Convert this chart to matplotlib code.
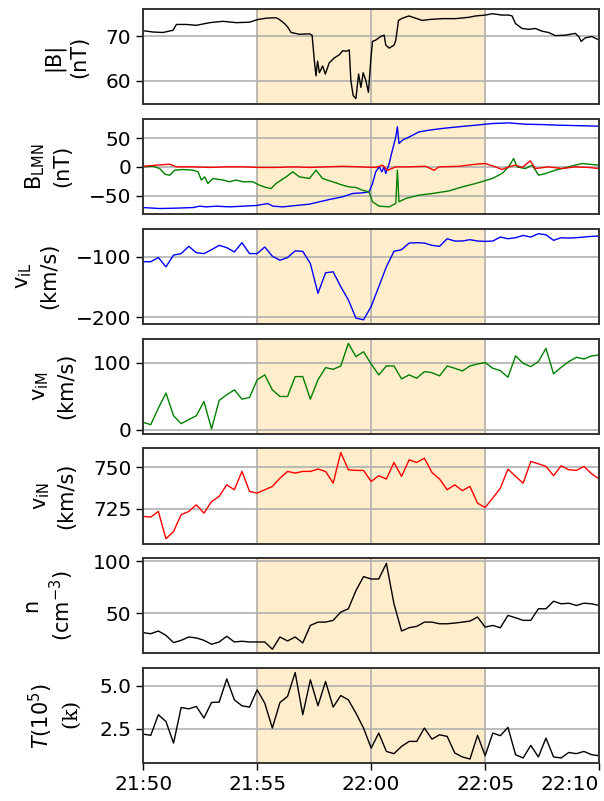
import numpy as np
import matplotlib
matplotlib.use("Agg")
import matplotlib.pyplot as plt

plt.rcParams['font.family'] = ['DejaVu Sans']
plt.rcParams['mathtext.fontset'] = 'custom'
plt.rcParams['mathtext.rm'] = 'DejaVu Serif'
plt.rcParams['mathtext.it'] = 'DejaVu Sans:italic'
plt.rcParams['mathtext.sf'] = 'DejaVu Sans'
plt.rcParams['mathtext.bf'] = 'DejaVu Sans:bold'

# time axis: minutes after 21:50
tick_pos = [0, 5, 10, 15, 20]
tick_labels = ["21:50", "21:55", "22:00", "22:05", "22:10"]

# |B| (nT), high resolution trace
t_b = [0, 0.44, 0.87, 1.31, 1.46, 1.90, 2.33, 2.92, 3.50, 4.08, 4.66, 5.03, 5.39, 5.83, 5.98,
       6.20, 6.34, 6.49, 6.85, 7.29, 7.41, 7.51, 7.58, 7.65, 7.73, 7.87, 7.99, 8.16, 8.38, 8.60,
       8.75, 8.92, 9.04, 9.11, 9.21, 9.33, 9.45, 9.55, 9.65, 9.77, 9.88, 9.99, 10.06, 10.20, 10.42,
       10.57, 10.64, 10.79, 11.01, 11.08, 11.20, 11.37, 11.66, 11.95, 12.24, 12.54, 13.12, 13.70,
       14.29, 14.58, 15.01, 15.31, 15.74, 16.03, 16.18, 16.33, 16.62, 16.91, 17.20, 17.49, 17.78,
       18.08, 18.51, 18.95, 19.10, 19.21, 19.39, 19.68, 20.0]
b_mag = [71.2, 70.9, 70.8, 71.3, 72.6, 72.6, 72.4, 73.0, 73.3, 73.0, 73.1, 73.7, 74.0, 74.1, 73.7,
         72.8, 72.0, 70.8, 70.4, 70.5, 70.2, 64.4, 61.1, 64.4, 61.8, 63.3, 61.5, 64.0, 65.1, 65.8,
         66.7, 66.6, 66.9, 60.0, 56.7, 56.0, 61.5, 58.5, 61.8, 60.0, 57.4, 65.1, 68.8, 69.1, 69.9,
         70.2, 68.0, 67.3, 68.0, 69.1, 73.5, 74.0, 74.5, 74.0, 73.5, 73.7, 73.9, 73.9, 74.2, 74.5,
         74.7, 75.0, 74.7, 74.7, 74.5, 72.8, 71.7, 71.5, 71.7, 71.1, 70.8, 70.1, 70.2, 70.6, 69.9,
         68.8, 69.6, 69.9, 69.1]

# B_L (blue)
t_bl = [0, 0.73, 1.46, 2.19, 2.48, 2.77, 3.21, 3.79, 4.37, 4.96, 5.47, 5.69, 6.12, 6.71, 7.29,
        7.73, 8.16, 8.75, 9.18, 9.62, 9.91, 10.06, 10.20, 10.35, 10.47, 10.57, 10.64, 10.79, 10.93,
        11.08, 11.15, 11.22, 11.37, 11.66, 12.10, 12.54, 13.12, 13.85, 14.58, 15.31, 16.03, 16.76,
        17.49, 18.22, 18.95, 20.0]
b_l = [-71, -72.7, -72, -71, -68.6, -69.8, -68.6, -69.8, -68.6, -67.4, -64, -68.6, -69.8, -67.4,
       -65.1, -61, -57, -52.3, -46.5, -45.3, -43.6, -29, -8.7, 0, -8.7, 0, -11.6, 5.8, 29, 52, 70,
       40.7, 46.5, 52, 61, 64, 67, 70, 72.7, 75.6, 76.7, 74.4, 73.8, 72.7, 72, 71]

# B_M (green)
t_bm = [0, 0.44, 0.73, 0.95, 1.17, 1.38, 1.75, 2.19, 2.41, 2.55, 2.70, 2.84, 3.06, 3.50, 3.79,
        4.08, 4.37, 4.81, 5.10, 5.39, 5.61, 5.83, 6.27, 6.56, 6.85, 7.29, 7.58, 7.87, 8.31, 8.75,
        9.04, 9.33, 9.62, 9.91, 10.06, 10.35, 10.79, 11.08, 11.15, 11.22, 11.52, 12.10, 12.68,
        13.41, 13.99, 14.58, 15.31, 15.74, 16.03, 16.25, 16.40, 16.76, 17.06, 17.35, 17.64, 18.08,
        18.66, 19.24, 20.0]
b_m = [0, 1, -3, -12.8, -14.5, -5.8, -4.6, -5.8, -8.7, -23, -17.4, -29, -20.3, -23, -26, -23,
       -26, -26, -32, -36, -37.8, -29, -17.4, -8.7, -17.4, -20.3, -5.8, -20.3, -26, -32, -35, -36,
       -40.7, -43.6, -61, -68.6, -69.8, -64, -5.8, -61, -55, -49.4, -46.5, -42, -35, -29, -20.3,
       -11.6, 0, 14.5, 0, -3, 3, -14.5, -11.6, -5.8, 0, 5.8, 3]

# B_N (red)
t_bn = [0, 0.58, 1.17, 1.46, 2.19, 2.92, 3.64, 4.37, 5.10, 5.83, 6.56, 7.29, 8.02, 8.75, 9.48,
        10.20, 10.50, 10.71, 11.08, 11.66, 12.39, 12.76, 12.97, 13.85, 14.58, 15.01, 15.45, 15.74,
        16.03, 16.33, 16.62, 16.98, 17.20, 17.78, 18.37, 18.95, 19.53, 20.0]
b_n = [1, 3, 4.6, 0, 0, -1, 0, 0, -1, -1, 0, -1, 0, 1, 0, -1, 3, -6, 0, 0, 1, -6, 0, 1, 4.6,
       5.8, 0, -4.6, 0, 3, -1, 10.5, -3, 0, -3, 0, -1, -3]

# ion moments, 20 s cadence from 21:50:00
t_ion = np.arange(61) / 3.0

v_il = [-108, -108, -101, -116.5, -97, -94.5, -82.4, -93, -94.5, -88, -80.8, -84.6, -91.8, -76.4,
        -94.5, -94.5, -83.5, -98.9, -105.5, -101, -90, -90.7, -111, -160.4, -126.4, -124.7, -149.5,
        -171.4, -201.6, -204.4, -182.4, -149.5, -116.5, -90.7, -88, -77, -76.4, -77, -80.8, -82.4,
        -69.8, -73.6, -73.6, -71.4, -73.6, -74.2, -73.6, -67, -69.8, -68.1, -64.3, -67, -61.5,
        -63.2, -72.5, -68.1, -68.7, -68.1, -67, -65.9, -65.4]

v_im = [10.9, 7.4, 32, 54.5, 20.8, 8.9, 14.9, 20.8, 42, 1, 43.6, 52, 59.4, 45.5, 48, 74.3, 81.7,
        59.4, 49.5, 49.5, 79.2, 79.2, 45.5, 74.3, 92.6, 90, 95, 128.7, 109, 116.3, 98, 81.7, 95, 95,
        75.7, 81.7, 76.7, 86.6, 85, 80.2, 95, 91.6, 87.6, 95, 98, 100, 91.6, 88, 78.2, 110, 99, 94,
        101.5, 121.3, 83.2, 93, 101.5, 108, 105.4, 110, 111.4]

v_in = [720.4, 720, 723.4, 706.9, 711.3, 721.4, 723.4, 727.4, 722.4, 729.4, 732.5, 739.5, 736.5,
        747.6, 735.5, 734.5, 736.5, 738.5, 743.5, 747.6, 746.6, 747.6, 747.6, 749, 747.6, 740.5,
        759, 748.6, 748.2, 748.2, 741.5, 745, 743, 753, 744.6, 754.6, 753, 755.6, 747, 743, 736.5,
        739.5, 736, 738.5, 728.4, 725.8, 731.5, 737.5, 749, 744.6, 740.5, 753.6, 752.2, 750.6, 745,
        751, 748.6, 748.2, 750.6, 746.2, 743]

n_i = [31.1, 30.1, 32.7, 28.5, 21.5, 23.7, 26.9, 26, 23.7, 19.9, 22.1, 27.6, 22.1, 22.8, 22.1,
       22.1, 22.1, 15.1, 26.9, 23.1, 26.9, 21.2, 38.1, 41.3, 41.3, 43, 51, 54.2, 71.8, 85.3, 83, 83,
       98.1, 59, 32.7, 35.9, 37.2, 41.3, 41.3, 39.7, 39.7, 40.4, 41.3, 42.3, 46.2, 36.5, 38.1, 35.9,
       47.8, 45.5, 43, 43, 54.2, 54.2, 61.5, 59, 59.6, 57.4, 59.6, 59, 57.4]

temp = [2.19, 2.12, 3.31, 2.92, 1.67, 3.73, 3.65, 3.79, 3.12, 4.02, 4.04, 5.38, 4.17, 3.83, 3.75,
        4.75, 3.98, 2.54, 4.02, 4.37, 5.75, 3.31, 5.33, 3.83, 5.23, 3.75, 4.42, 4.17, 3.4, 2.54,
        1.38, 2.25, 1.19, 1.06, 1.48, 1.77, 1.77, 2.54, 1.9, 2.15, 2.06, 1.1, 0.87, 0.75, 2.12, 0.94,
        2.25, 2.1, 2.58, 1.0, 0.81, 1.54, 0.87, 1.96, 0.87, 0.81, 1.13, 1.06, 1.19, 1.0, 0.94]

fig, axes = plt.subplots(7, 1, sharex=True, figsize=(6.04, 8.01), dpi=100)
fig.subplots_adjust(left=0.237, right=0.992, top=0.989, bottom=0.047, hspace=0.155)

lw = 1.0
axes[0].plot(t_b, b_mag, color='black', lw=lw)
axes[1].plot(t_bl, b_l, color='blue', lw=lw)
axes[1].plot(t_bm, b_m, color='green', lw=lw)
axes[1].plot(t_bn, b_n, color='red', lw=lw)
axes[2].plot(t_ion, v_il, color='blue', lw=lw)
axes[3].plot(t_ion, v_im, color='green', lw=lw)
axes[4].plot(t_ion, v_in, color='red', lw=lw)
axes[5].plot(t_ion, n_i, color='black', lw=lw)
axes[6].plot(t_ion, temp, color='black', lw=lw)

labels = ["|B|\n(nT)",
          "B$_{\\mathsf{LMN}}$\n(nT)",
          "v$_{\\mathsf{iL}}$\n(km/s)",
          "v$_{\\mathsf{iM}}$\n(km/s)",
          "v$_{\\mathsf{iN}}$\n(km/s)",
          "n\n(cm$^{\\mathsf{-3}}$)",
          "$T$(10$^{\\mathsf{5}}$)\n$\\mathrm{(k)}$"]
yticks = [[60, 70], [-50, 0, 50], [-200, -100], [0, 100], [725, 750], [50, 100], [2.5, 5.0]]
ylims = [(54.8, 76.1), (-82, 84), (-211, -53), (-6, 136), (704, 761.5), (11, 103), (0.5, 6.0)]

for i, ax in enumerate(axes):
    ax.axvspan(5, 15, color='orange', alpha=0.2, lw=1.5)
    ax.set_xlim(0, 20)
    ax.set_ylim(*ylims[i])
    ax.set_yticks(yticks[i])
    if i == 6:
        ax.set_yticklabels(["2.5", "5.0"])
    ax.set_xticks(tick_pos)
    ax.grid(True, color='#b0b0b0', lw=1.2)
    ax.set_ylabel(labels[i], fontsize=15, labelpad=12, linespacing=1.3)
    ax.tick_params(axis='y', labelsize=14.5, length=5, width=1)
    for s in ax.spines.values():
        s.set_linewidth(1.4)
        s.set_color('#333333')
    if i < 6:
        ax.tick_params(axis='x', bottom=False, labelbottom=False)

axes[6].set_xticklabels(tick_labels)
axes[6].tick_params(axis='x', labelsize=14.5, length=5, width=1)
axes[6].get_xticklabels()[-1].set_horizontalalignment('right')

fig.savefig("out.png", dpi=100)
